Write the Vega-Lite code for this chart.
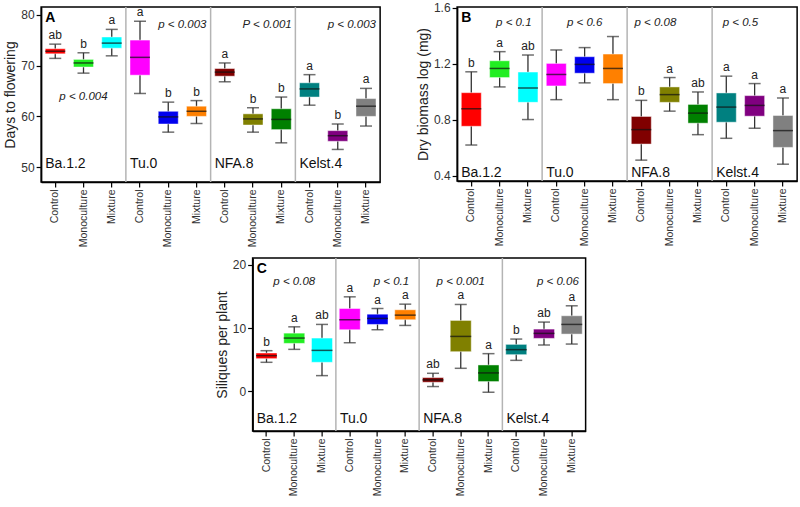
{
  "$schema": "https://vega.github.io/schema/vega-lite/v6.json",
  "padding": {"left": 3, "top": 1, "right": 0, "bottom": 0},
  "background": "white",
  "datasets": {
    "seps": [{"key": "Tu.0|Control"}, {"key": "NFA.8|Control"}, {"key": "Kelst.4|Control"}],
    "A": [
      {"key": "Ba.1.2|Control", "lo": 71.4, "q1": 72.3, "med": 72.8, "q3": 73.3, "hi": 74.2, "letter": "ab"},
      {"key": "Ba.1.2|Monoculture", "lo": 68.5, "q1": 69.7, "med": 70.5, "q3": 71.2, "hi": 72.5, "letter": "b"},
      {"key": "Ba.1.2|Mixture", "lo": 71.9, "q1": 73.4, "med": 74.4, "q3": 75.6, "hi": 77.1, "letter": "a"},
      {"key": "Tu.0|Control", "lo": 64.5, "q1": 68.1, "med": 71.6, "q3": 75.0, "hi": 78.7, "letter": "a"},
      {"key": "Tu.0|Monoculture", "lo": 56.9, "q1": 58.5, "med": 59.9, "q3": 61.0, "hi": 62.8, "letter": "b"},
      {"key": "Tu.0|Mixture", "lo": 58.6, "q1": 60.0, "med": 61.0, "q3": 62.0, "hi": 63.1, "letter": "b"},
      {"key": "NFA.8|Control", "lo": 66.8, "q1": 67.9, "med": 68.7, "q3": 69.4, "hi": 70.5, "letter": "a"},
      {"key": "NFA.8|Monoculture", "lo": 56.9, "q1": 58.3, "med": 59.5, "q3": 60.5, "hi": 61.7, "letter": "b"},
      {"key": "NFA.8|Mixture", "lo": 54.8, "q1": 57.4, "med": 59.4, "q3": 61.5, "hi": 63.8, "letter": "b"},
      {"key": "Kelst.4|Control", "lo": 62.2, "q1": 63.8, "med": 65.4, "q3": 66.6, "hi": 68.2, "letter": "a"},
      {"key": "Kelst.4|Monoculture", "lo": 53.5, "q1": 55.1, "med": 56.2, "q3": 57.2, "hi": 58.5, "letter": "b"},
      {"key": "Kelst.4|Mixture", "lo": 58.1, "q1": 60.0, "med": 62.0, "q3": 63.5, "hi": 65.5, "letter": "a"}
    ],
    "B": [
      {"key": "Ba.1.2|Control", "lo": 0.621, "q1": 0.755, "med": 0.88, "q3": 0.995, "hi": 1.144, "letter": "b"},
      {"key": "Ba.1.2|Monoculture", "lo": 1.036, "q1": 1.103, "med": 1.168, "q3": 1.223, "hi": 1.288, "letter": "a"},
      {"key": "Ba.1.2|Mixture", "lo": 0.803, "q1": 0.926, "med": 1.029, "q3": 1.142, "hi": 1.264, "letter": "ab"},
      {"key": "Tu.0|Control", "lo": 0.945, "q1": 1.043, "med": 1.125, "q3": 1.204, "hi": 1.30, "letter": ""},
      {"key": "Tu.0|Monoculture", "lo": 1.065, "q1": 1.134, "med": 1.197, "q3": 1.252, "hi": 1.317, "letter": ""},
      {"key": "Tu.0|Mixture", "lo": 0.945, "q1": 1.06, "med": 1.168, "q3": 1.271, "hi": 1.396, "letter": ""},
      {"key": "NFA.8|Control", "lo": 0.513, "q1": 0.628, "med": 0.731, "q3": 0.825, "hi": 0.94, "letter": "b"},
      {"key": "NFA.8|Monoculture", "lo": 0.863, "q1": 0.926, "med": 0.981, "q3": 1.036, "hi": 1.103, "letter": "a"},
      {"key": "NFA.8|Mixture", "lo": 0.695, "q1": 0.777, "med": 0.849, "q3": 0.911, "hi": 1.0, "letter": "ab"},
      {"key": "Kelst.4|Control", "lo": 0.669, "q1": 0.784, "med": 0.892, "q3": 0.993, "hi": 1.113, "letter": "a"},
      {"key": "Kelst.4|Monoculture", "lo": 0.741, "q1": 0.827, "med": 0.904, "q3": 0.974, "hi": 1.06, "letter": "a"},
      {"key": "Kelst.4|Mixture", "lo": 0.484, "q1": 0.604, "med": 0.724, "q3": 0.832, "hi": 0.957, "letter": "a"}
    ],
    "C": [
      {"key": "Ba.1.2|Control", "lo": 4.58, "q1": 5.16, "med": 5.63, "q3": 6.05, "hi": 6.42, "letter": "b"},
      {"key": "Ba.1.2|Monoculture", "lo": 6.63, "q1": 7.58, "med": 8.42, "q3": 9.2, "hi": 10.2, "letter": "a"},
      {"key": "Ba.1.2|Mixture", "lo": 2.47, "q1": 4.58, "med": 6.47, "q3": 8.42, "hi": 10.58, "letter": "ab"},
      {"key": "Tu.0|Control", "lo": 7.68, "q1": 9.74, "med": 11.32, "q3": 13.1, "hi": 14.95, "letter": "a"},
      {"key": "Tu.0|Monoculture", "lo": 9.74, "q1": 10.58, "med": 11.53, "q3": 12.2, "hi": 13.1, "letter": "a"},
      {"key": "Tu.0|Mixture", "lo": 10.42, "q1": 11.32, "med": 12.05, "q3": 12.9, "hi": 13.79, "letter": "a"},
      {"key": "NFA.8|Control", "lo": 0.74, "q1": 1.42, "med": 1.79, "q3": 2.16, "hi": 2.84, "letter": "ab"},
      {"key": "NFA.8|Monoculture", "lo": 3.63, "q1": 6.26, "med": 8.68, "q3": 11.21, "hi": 13.74, "letter": "a"},
      {"key": "NFA.8|Mixture", "lo": -0.16, "q1": 1.53, "med": 2.9, "q3": 4.16, "hi": 5.95, "letter": "a"},
      {"key": "Kelst.4|Control", "lo": 4.89, "q1": 5.79, "med": 6.58, "q3": 7.42, "hi": 8.26, "letter": "b"},
      {"key": "Kelst.4|Monoculture", "lo": 7.32, "q1": 8.37, "med": 9.16, "q3": 9.84, "hi": 10.95, "letter": "ab"},
      {"key": "Kelst.4|Mixture", "lo": 7.47, "q1": 9.05, "med": 10.58, "q3": 11.95, "hi": 13.53, "letter": "a"}
    ],
    "notesA": [
      {"kind": "p", "key": "Ba.1.2|Monoculture", "y": 63.8, "label": "p < 0.004"},
      {"kind": "pr", "key": "Tu.0|Monoculture", "y": 78.0, "label": "p < 0.003"},
      {"kind": "pr", "key": "NFA.8|Monoculture", "y": 78.0, "label": "P < 0.001"},
      {"kind": "pr", "key": "Kelst.4|Monoculture", "y": 78.0, "label": "p < 0.003"},
      {"kind": "g", "key": "Ba.1.2|Control", "y": 50.6, "label": "Ba.1.2"},
      {"kind": "g", "key": "Tu.0|Control", "y": 50.6, "label": "Tu.0"},
      {"kind": "g", "key": "NFA.8|Control", "y": 50.6, "label": "NFA.8"},
      {"kind": "g", "key": "Kelst.4|Control", "y": 50.6, "label": "Kelst.4"},
      {"kind": "panel", "key": "Ba.1.2|Control", "y": 81.5, "label": "A"}
    ],
    "notesB": [
      {"kind": "pr", "key": "Ba.1.2|Monoculture", "y": 1.492, "label": "p < 0.1"},
      {"kind": "p", "key": "Tu.0|Monoculture", "y": 1.492, "label": "p < 0.6"},
      {"kind": "pr", "key": "NFA.8|Control", "y": 1.492, "label": "p < 0.08"},
      {"kind": "pr", "key": "Kelst.4|Control", "y": 1.492, "label": "p < 0.5"},
      {"kind": "g", "key": "Ba.1.2|Control", "y": 0.424, "label": "Ba.1.2"},
      {"kind": "g", "key": "Tu.0|Control", "y": 0.424, "label": "Tu.0"},
      {"kind": "g", "key": "NFA.8|Control", "y": 0.424, "label": "NFA.8"},
      {"kind": "g", "key": "Kelst.4|Control", "y": 0.424, "label": "Kelst.4"},
      {"kind": "panel", "key": "Ba.1.2|Control", "y": 1.607, "label": "B"}
    ],
    "notesC": [
      {"kind": "p", "key": "Ba.1.2|Monoculture", "y": 17.3, "label": "p < 0.08"},
      {"kind": "pr", "key": "Tu.0|Monoculture", "y": 17.3, "label": "p < 0.1"},
      {"kind": "p", "key": "NFA.8|Monoculture", "y": 17.3, "label": "p < 0.001"},
      {"kind": "pr", "key": "Kelst.4|Monoculture", "y": 17.3, "label": "p < 0.06"},
      {"kind": "g", "key": "Ba.1.2|Control", "y": -4.4, "label": "Ba.1.2"},
      {"kind": "g", "key": "Tu.0|Control", "y": -4.4, "label": "Tu.0"},
      {"kind": "g", "key": "NFA.8|Control", "y": -4.4, "label": "NFA.8"},
      {"kind": "g", "key": "Kelst.4|Control", "y": -4.4, "label": "Kelst.4"},
      {"kind": "panel", "key": "Ba.1.2|Control", "y": 21.1, "label": "C"}
    ]
  },
  "vconcat": [
    {
      "hconcat": [
        {
          "width": 339, "height": 175,
          "layer": [
            {"data": {"name": "seps"}, "mark": {"type": "rule", "color": "#b4b4b4", "strokeWidth": 1.5},
             "encoding": {"x": {"field": "key", "type": "nominal", "bandPosition": 0,
               "scale": {"domain": ["Ba.1.2|Control","Ba.1.2|Monoculture","Ba.1.2|Mixture","Tu.0|Control","Tu.0|Monoculture","Tu.0|Mixture","NFA.8|Control","NFA.8|Monoculture","NFA.8|Mixture","Kelst.4|Control","Kelst.4|Monoculture","Kelst.4|Mixture"], "paddingInner": 0, "paddingOuter": 0},
               "axis": {"title": null, "labelExpr": "split(datum.value,'|')[1]"}}}},
            {"data": {"name": "A"}, "mark": {"type": "rule", "color": "#333333", "strokeWidth": 1.3},
             "encoding": {"x": {"field": "key", "type": "nominal"},
               "y": {"field": "lo", "type": "quantitative", "title": "Days to flowering", "scale": {"domain": [47.1, 81.5], "nice": false, "zero": false}, "axis": {"values": [50, 60, 70, 80]}},
               "y2": {"field": "hi"}}},
            {"data": {"name": "A"}, "mark": {"type": "tick", "color": "#333333", "size": 12, "thickness": 1.5},
             "encoding": {"x": {"field": "key", "type": "nominal"}, "y": {"field": "lo", "type": "quantitative", "title": "Days to flowering"}}},
            {"data": {"name": "A"}, "mark": {"type": "tick", "color": "#333333", "size": 12, "thickness": 1.5},
             "encoding": {"x": {"field": "key", "type": "nominal"}, "y": {"field": "hi", "type": "quantitative", "title": "Days to flowering"}}},
            {"data": {"name": "A"}, "mark": {"type": "bar", "width": 20, "stroke": "white", "strokeOpacity": 0.45, "strokeWidth": 1},
             "encoding": {"x": {"field": "key", "type": "nominal"}, "y": {"field": "q1", "type": "quantitative", "title": "Days to flowering"}, "y2": {"field": "q3"},
               "color": {"field": "key", "type": "nominal", "legend": null, "scale": {"domain": ["Ba.1.2|Control","Ba.1.2|Monoculture","Ba.1.2|Mixture","Tu.0|Control","Tu.0|Monoculture","Tu.0|Mixture","NFA.8|Control","NFA.8|Monoculture","NFA.8|Mixture","Kelst.4|Control","Kelst.4|Monoculture","Kelst.4|Mixture"], "range": ["#ff0000","#22ee22","#00ffff","#ff00ff","#0000ee","#ff8000","#800000","#808000","#008000","#008080","#800080","#808080"]}}}},
            {"data": {"name": "A"}, "mark": {"type": "tick", "color": "#111111", "size": 20, "thickness": 1.5},
             "encoding": {"x": {"field": "key", "type": "nominal"}, "y": {"field": "med", "type": "quantitative", "title": "Days to flowering"}}},
            {"data": {"name": "A"}, "mark": {"type": "text", "baseline": "bottom", "dy": -2, "fontSize": 12, "color": "#222222"},
             "encoding": {"x": {"field": "key", "type": "nominal"}, "y": {"field": "hi", "type": "quantitative", "title": "Days to flowering"}, "text": {"field": "letter"}}},
            {"data": {"name": "notesA"}, "transform": [{"filter": "datum.kind == 'p'"}], "mark": {"type": "text", "fontStyle": "italic", "fontSize": 11.5, "color": "#222222"},
             "encoding": {"x": {"field": "key", "type": "nominal"}, "y": {"field": "y", "type": "quantitative", "title": "Days to flowering"}, "text": {"field": "label"}}},
            {"data": {"name": "notesA"}, "transform": [{"filter": "datum.kind == 'pr'"}], "mark": {"type": "text", "fontStyle": "italic", "fontSize": 11.5, "color": "#222222"},
             "encoding": {"x": {"field": "key", "type": "nominal", "bandPosition": 1}, "y": {"field": "y", "type": "quantitative", "title": "Days to flowering"}, "text": {"field": "label"}}},
            {"data": {"name": "notesA"}, "transform": [{"filter": "datum.kind == 'g'"}], "mark": {"type": "text", "align": "left", "dx": 4, "fontSize": 14, "color": "#111111"},
             "encoding": {"x": {"field": "key", "type": "nominal", "bandPosition": 0}, "y": {"field": "y", "type": "quantitative", "title": "Days to flowering"}, "text": {"field": "label"}}},
            {"data": {"name": "notesA"}, "transform": [{"filter": "datum.kind == 'panel'"}], "mark": {"type": "text", "align": "left", "baseline": "top", "dx": 4, "dy": 4, "fontSize": 14, "fontWeight": "bold", "color": "#000000"},
             "encoding": {"x": {"field": "key", "type": "nominal", "bandPosition": 0}, "y": {"field": "y", "type": "quantitative", "title": "Days to flowering"}, "text": {"field": "label"}}}
          ]
        },
        {
          "width": 340, "height": 174,
          "layer": [
            {"data": {"name": "seps"}, "mark": {"type": "rule", "color": "#b4b4b4", "strokeWidth": 1.5},
             "encoding": {"x": {"field": "key", "type": "nominal", "bandPosition": 0,
               "scale": {"domain": ["Ba.1.2|Control","Ba.1.2|Monoculture","Ba.1.2|Mixture","Tu.0|Control","Tu.0|Monoculture","Tu.0|Mixture","NFA.8|Control","NFA.8|Monoculture","NFA.8|Mixture","Kelst.4|Control","Kelst.4|Monoculture","Kelst.4|Mixture"], "paddingInner": 0, "paddingOuter": 0},
               "axis": {"title": null, "labelExpr": "split(datum.value,'|')[1]"}}}},
            {"data": {"name": "B"}, "mark": {"type": "rule", "color": "#333333", "strokeWidth": 1.3},
             "encoding": {"x": {"field": "key", "type": "nominal"},
               "y": {"field": "lo", "type": "quantitative", "title": "Dry biomass log (mg)", "scale": {"domain": [0.364, 1.607], "nice": false, "zero": false}, "axis": {"values": [0.4, 0.6, 0.8, 1.0, 1.2, 1.4, 1.6], "labelExpr": "round(datum.value*10) % 4 == 0 ? format(datum.value, '.1f') : ''"}},
               "y2": {"field": "hi"}}},
            {"data": {"name": "B"}, "mark": {"type": "tick", "color": "#333333", "size": 12, "thickness": 1.5},
             "encoding": {"x": {"field": "key", "type": "nominal"}, "y": {"field": "lo", "type": "quantitative", "title": "Dry biomass log (mg)"}}},
            {"data": {"name": "B"}, "mark": {"type": "tick", "color": "#333333", "size": 12, "thickness": 1.5},
             "encoding": {"x": {"field": "key", "type": "nominal"}, "y": {"field": "hi", "type": "quantitative", "title": "Dry biomass log (mg)"}}},
            {"data": {"name": "B"}, "mark": {"type": "bar", "width": 20, "stroke": "white", "strokeOpacity": 0.45, "strokeWidth": 1},
             "encoding": {"x": {"field": "key", "type": "nominal"}, "y": {"field": "q1", "type": "quantitative", "title": "Dry biomass log (mg)"}, "y2": {"field": "q3"},
               "color": {"field": "key", "type": "nominal", "legend": null, "scale": {"domain": ["Ba.1.2|Control","Ba.1.2|Monoculture","Ba.1.2|Mixture","Tu.0|Control","Tu.0|Monoculture","Tu.0|Mixture","NFA.8|Control","NFA.8|Monoculture","NFA.8|Mixture","Kelst.4|Control","Kelst.4|Monoculture","Kelst.4|Mixture"], "range": ["#ff0000","#22ee22","#00ffff","#ff00ff","#0000ee","#ff8000","#800000","#808000","#008000","#008080","#800080","#808080"]}}}},
            {"data": {"name": "B"}, "mark": {"type": "tick", "color": "#111111", "size": 20, "thickness": 1.5},
             "encoding": {"x": {"field": "key", "type": "nominal"}, "y": {"field": "med", "type": "quantitative", "title": "Dry biomass log (mg)"}}},
            {"data": {"name": "B"}, "mark": {"type": "text", "baseline": "bottom", "dy": -2, "fontSize": 12, "color": "#222222"},
             "encoding": {"x": {"field": "key", "type": "nominal"}, "y": {"field": "hi", "type": "quantitative", "title": "Dry biomass log (mg)"}, "text": {"field": "letter"}}},
            {"data": {"name": "notesB"}, "transform": [{"filter": "datum.kind == 'p'"}], "mark": {"type": "text", "fontStyle": "italic", "fontSize": 11.5, "color": "#222222"},
             "encoding": {"x": {"field": "key", "type": "nominal"}, "y": {"field": "y", "type": "quantitative", "title": "Dry biomass log (mg)"}, "text": {"field": "label"}}},
            {"data": {"name": "notesB"}, "transform": [{"filter": "datum.kind == 'pr'"}], "mark": {"type": "text", "fontStyle": "italic", "fontSize": 11.5, "color": "#222222"},
             "encoding": {"x": {"field": "key", "type": "nominal", "bandPosition": 1}, "y": {"field": "y", "type": "quantitative", "title": "Dry biomass log (mg)"}, "text": {"field": "label"}}},
            {"data": {"name": "notesB"}, "transform": [{"filter": "datum.kind == 'g'"}], "mark": {"type": "text", "align": "left", "dx": 4, "fontSize": 14, "color": "#111111"},
             "encoding": {"x": {"field": "key", "type": "nominal", "bandPosition": 0}, "y": {"field": "y", "type": "quantitative", "title": "Dry biomass log (mg)"}, "text": {"field": "label"}}},
            {"data": {"name": "notesB"}, "transform": [{"filter": "datum.kind == 'panel'"}], "mark": {"type": "text", "align": "left", "baseline": "top", "dx": 4, "dy": 4, "fontSize": 14, "fontWeight": "bold", "color": "#000000"},
             "encoding": {"x": {"field": "key", "type": "nominal", "bandPosition": 0}, "y": {"field": "y", "type": "quantitative", "title": "Dry biomass log (mg)"}, "text": {"field": "label"}}}
          ]
        }
      ],
      "spacing": 34
    },
    {
      "width": 333, "height": 173,
      "layer": [
        {"data": {"name": "seps"}, "mark": {"type": "rule", "color": "#b4b4b4", "strokeWidth": 1.5},
         "encoding": {"x": {"field": "key", "type": "nominal", "bandPosition": 0,
           "scale": {"domain": ["Ba.1.2|Control","Ba.1.2|Monoculture","Ba.1.2|Mixture","Tu.0|Control","Tu.0|Monoculture","Tu.0|Mixture","NFA.8|Control","NFA.8|Monoculture","NFA.8|Mixture","Kelst.4|Control","Kelst.4|Monoculture","Kelst.4|Mixture"], "paddingInner": 0, "paddingOuter": 0},
           "axis": {"title": null, "labelExpr": "split(datum.value,'|')[1]"}}}},
        {"data": {"name": "C"}, "mark": {"type": "rule", "color": "#333333", "strokeWidth": 1.3},
         "encoding": {"x": {"field": "key", "type": "nominal"},
           "y": {"field": "lo", "type": "quantitative", "title": "Siliques per plant", "scale": {"domain": [-6.3, 21.1], "nice": false, "zero": false}, "axis": {"values": [0, 10, 20], "labels": true}},
           "y2": {"field": "hi"}}},
        {"data": {"name": "C"}, "mark": {"type": "tick", "color": "#333333", "size": 12, "thickness": 1.5},
         "encoding": {"x": {"field": "key", "type": "nominal"}, "y": {"field": "lo", "type": "quantitative", "title": "Siliques per plant"}}},
        {"data": {"name": "C"}, "mark": {"type": "tick", "color": "#333333", "size": 12, "thickness": 1.5},
         "encoding": {"x": {"field": "key", "type": "nominal"}, "y": {"field": "hi", "type": "quantitative", "title": "Siliques per plant"}}},
        {"data": {"name": "C"}, "mark": {"type": "bar", "width": 21, "stroke": "white", "strokeOpacity": 0.45, "strokeWidth": 1},
         "encoding": {"x": {"field": "key", "type": "nominal"}, "y": {"field": "q1", "type": "quantitative", "title": "Siliques per plant"}, "y2": {"field": "q3"},
           "color": {"field": "key", "type": "nominal", "legend": null, "scale": {"domain": ["Ba.1.2|Control","Ba.1.2|Monoculture","Ba.1.2|Mixture","Tu.0|Control","Tu.0|Monoculture","Tu.0|Mixture","NFA.8|Control","NFA.8|Monoculture","NFA.8|Mixture","Kelst.4|Control","Kelst.4|Monoculture","Kelst.4|Mixture"], "range": ["#ff0000","#22ee22","#00ffff","#ff00ff","#0000ee","#ff8000","#800000","#808000","#008000","#008080","#800080","#808080"]}}}},
        {"data": {"name": "C"}, "mark": {"type": "tick", "color": "#111111", "size": 21, "thickness": 1.5},
         "encoding": {"x": {"field": "key", "type": "nominal"}, "y": {"field": "med", "type": "quantitative", "title": "Siliques per plant"}}},
        {"data": {"name": "C"}, "mark": {"type": "text", "baseline": "bottom", "dy": -2, "fontSize": 12, "color": "#222222"},
         "encoding": {"x": {"field": "key", "type": "nominal"}, "y": {"field": "hi", "type": "quantitative", "title": "Siliques per plant"}, "text": {"field": "letter"}}},
        {"data": {"name": "notesC"}, "transform": [{"filter": "datum.kind == 'p'"}], "mark": {"type": "text", "fontStyle": "italic", "fontSize": 11.5, "color": "#222222"},
         "encoding": {"x": {"field": "key", "type": "nominal"}, "y": {"field": "y", "type": "quantitative", "title": "Siliques per plant"}, "text": {"field": "label"}}},
        {"data": {"name": "notesC"}, "transform": [{"filter": "datum.kind == 'pr'"}], "mark": {"type": "text", "fontStyle": "italic", "fontSize": 11.5, "color": "#222222"},
         "encoding": {"x": {"field": "key", "type": "nominal", "bandPosition": 1}, "y": {"field": "y", "type": "quantitative", "title": "Siliques per plant"}, "text": {"field": "label"}}},
        {"data": {"name": "notesC"}, "transform": [{"filter": "datum.kind == 'g'"}], "mark": {"type": "text", "align": "left", "dx": 4, "fontSize": 14, "color": "#111111"},
         "encoding": {"x": {"field": "key", "type": "nominal", "bandPosition": 0}, "y": {"field": "y", "type": "quantitative", "title": "Siliques per plant"}, "text": {"field": "label"}}},
        {"data": {"name": "notesC"}, "transform": [{"filter": "datum.kind == 'panel'"}], "mark": {"type": "text", "align": "left", "baseline": "top", "dx": 4, "dy": 4, "fontSize": 14, "fontWeight": "bold", "color": "#000000"},
         "encoding": {"x": {"field": "key", "type": "nominal", "bandPosition": 0}, "y": {"field": "y", "type": "quantitative", "title": "Siliques per plant"}, "text": {"field": "label"}}}
      ]
    }
  ],
  "spacing": 8,
  "center": true,
  "config": {
    "font": "Liberation Sans",
    "view": {"stroke": "#000000", "strokeWidth": 1.5},
    "axis": {"domainColor": "#000000", "domainWidth": 1.5, "tickColor": "#000000", "tickWidth": 1.2, "tickSize": 5, "labelColor": "#333333", "titleColor": "#222222", "labelFontSize": 12, "titleFontSize": 14, "titleFontWeight": "normal", "grid": false, "labelPadding": 2, "titlePadding": 3},
    "axisX": {"labelAngle": -90, "labelFontSize": 10.5}
  }
}
